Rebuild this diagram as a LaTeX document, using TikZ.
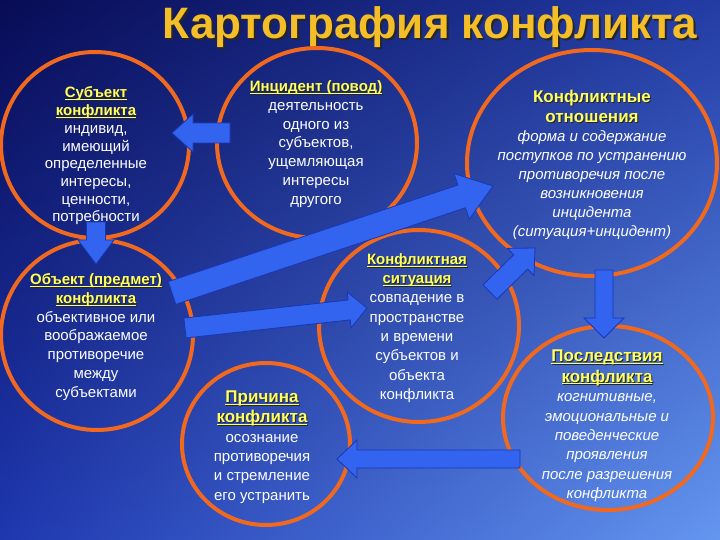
\documentclass[tikz,border=0pt]{standalone}
\usepackage{fontspec}
\setmainfont{Liberation Sans}
\usetikzlibrary{calc,shapes.geometric,shadings}
\definecolor{ring}{RGB}{240,105,30}
\definecolor{arrfill}{RGB}{50,100,240}
\definecolor{arrline}{RGB}{25,55,180}
\definecolor{hdr}{RGB}{255,255,95}
\definecolor{ttl}{RGB}{244,190,40}
\definecolor{bgUL}{RGB}{8,12,85}
\definecolor{bgUR}{RGB}{35,60,165}
\definecolor{bgLL}{RGB}{30,55,175}
\definecolor{bgLR}{RGB}{100,150,240}
\newcommand\myshd[2][1pt]{\makebox[0pt][l]{\hspace{#1}\raisebox{-#1}{\color{black!85}#2}}#2}
\newcommand\myul[1]{\underline{\raisebox{0pt}[\height][0pt]{#1}}}
\newcommand\hd[1]{{\bfseries\color{hdr}\myshd{\myul{#1}}}}
\newcommand\hdn[1]{{\bfseries\color{hdr}\myshd{#1}}}
\newcommand\blockarrow[5]{%
  \coordinate (tmpH) at ($(#2)!#5!(#1)$);
  \draw[arrowbody] ($(#1)!#3!90:(#2)$) -- ($(tmpH)!#3!90:(#2)$) -- ($(tmpH)!#4!90:(#2)$) -- (#2)
     -- ($(tmpH)!#4!-90:(#2)$) -- ($(tmpH)!#3!-90:(#2)$) -- ($(#1)!#3!-90:(#2)$) -- cycle;}
\tikzset{
  ringnode/.style={ellipse, draw=ring, line width=4pt, inner sep=0pt},
  arrowbody/.style={fill=arrfill, draw=arrline, line width=0.8pt, line join=miter},
  txt/.style={align=center, inner sep=0pt, text=white, font=\fontsize{15}{18.8}\selectfont},
}
\begin{document}
\begin{tikzpicture}[x=1pt,y=-1pt]
\useasboundingbox (0,0) rectangle (720,540);
\shade[upper left=bgUL, upper right=bgUR, lower left=bgLL, lower right=bgLR] (0,0) rectangle (720,540);

% title
\node[inner sep=0pt, text=ttl, font=\fontsize{44}{44}\selectfont\bfseries] (title) at (430,28) {\myshd[2pt]{Картография конфликта}};

% rings
\node[ringnode, minimum width=188pt, minimum height=186pt] (subj) at (95,145) {};
\node[ringnode, minimum width=200pt, minimum height=190pt] (inc) at (317,143) {};
\node[ringnode, minimum width=250pt, minimum height=226pt] (rel) at (592,163) {};
\node[ringnode, minimum width=192pt, minimum height=190pt] (obj) at (97,335) {};
\node[ringnode, minimum width=200pt, minimum height=192pt] (sit) at (419,326) {};
\node[ringnode, minimum width=168pt, minimum height=162pt] (cause) at (266,444) {};
\node[ringnode, minimum width=210pt, minimum height=184pt] (cons) at (608,418) {};

% arrow end points
\coordinate (a1s) at (230,133); \coordinate (a1e) at (172,133);
\coordinate (a2s) at (96,222);  \coordinate (a2e) at (96,264);
\coordinate (a3s) at (172,293); \coordinate (a3e) at (493,186);
\coordinate (a4s) at (185,328); \coordinate (a4e) at (367,308);
\coordinate (a5s) at (490,292); \coordinate (a5e) at (535,248);
\coordinate (a6s) at (604,270); \coordinate (a6e) at (604,338);
\coordinate (a7s) at (520,459); \coordinate (a7e) at (337,459);

\blockarrow{a1s}{a1e}{10pt}{19pt}{21pt}
\blockarrow{a2s}{a2e}{9.5pt}{18pt}{24pt}
\blockarrow{a3s}{a3e}{12pt}{24pt}{33pt}
\blockarrow{a4s}{a4e}{10pt}{18pt}{18pt}
\blockarrow{a5s}{a5e}{10pt}{19pt}{20pt}
\blockarrow{a6s}{a6e}{9pt}{20pt}{20pt}
\blockarrow{a7s}{a7e}{9pt}{19pt}{20pt}

% texts
\node[txt, font=\fontsize{15}{17.7}\selectfont] (tsubj) at (96,156) {\hd{Субъект}\\\hd{конфликта}\\индивид,\\имеющий\\определенные\\интересы,\\ценности,\\потребности};
\node[txt] (tinc) at (316,144) {\hd{Инцидент (повод)}\\деятельность\\одного из\\субъектов,\\ущемляющая\\интересы\\другого};
\node[txt, font=\fontsize{15}{19}\selectfont] (trel) at (592,165) {{\fontsize{17}{20}\selectfont\hdn{Конфликтные}}\\[1pt]{\fontsize{17}{20}\selectfont\hdn{отношения}}\\\itshape форма и содержание\\\itshape поступков по устранению\\\itshape противоречия после\\\itshape возникновения\\\itshape инцидента\\\itshape (ситуация+инцидент)};
\node[txt] (tobj) at (96,337) {\hd{Объект (предмет)}\\\hd{конфликта}\\объективное или\\воображаемое\\противоречие\\между\\субъектами};
\node[txt, font=\fontsize{15}{19.3}\selectfont] (tsit) at (417,328) {\hd{Конфликтная}\\\hd{ситуация}\\совпадение в\\пространстве\\и времени\\субъектов и\\объекта\\конфликта};
\node[txt, font=\fontsize{15}{19.3}\selectfont] (tcause) at (262,447) {{\fontsize{17}{20}\selectfont\hd{Причина}}\\[1pt]{\fontsize{17}{20}\selectfont\hd{конфликта}}\\осознание\\противоречия\\и стремление\\его устранить};
\node[txt, font=\fontsize{15}{19.4}\selectfont] (tcons) at (607,426) {{\fontsize{17}{20}\selectfont\hd{Последствия}}\\[1pt]{\fontsize{17}{20}\selectfont\hd{конфликта}}\\\itshape когнитивные,\\\itshape эмоциональные и\\\itshape поведенческие\\\itshape проявления\\\itshape после разрешения\\\itshape конфликта};
\end{tikzpicture}
\end{document}
